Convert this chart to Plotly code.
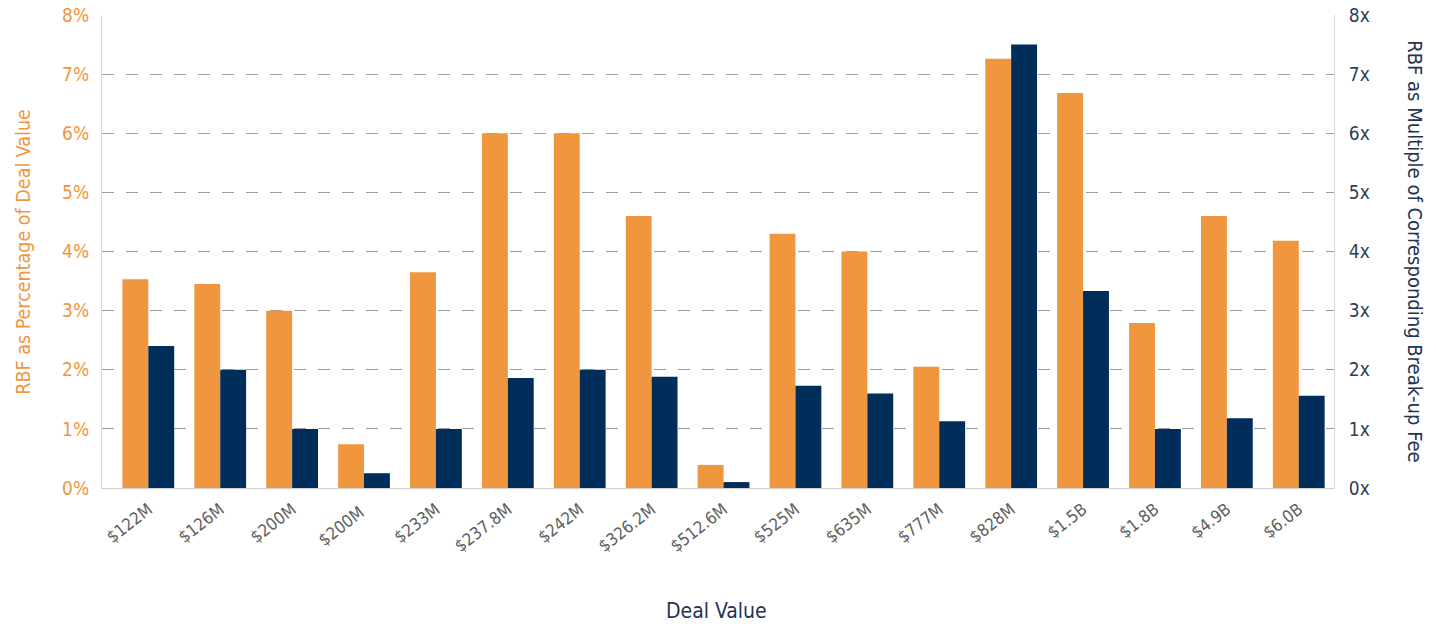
import plotly.graph_objects as go

# Deal values on the category axis (the repeated $200M carries a trailing space
# so both deals get their own slot)
deal_values = ["$122M", "$126M", "$200M", "$200M ", "$233M", "$237.8M", "$242M",
               "$326.2M", "$512.6M", "$525M", "$635M", "$777M", "$828M",
               "$1.5B", "$1.8B", "$4.9B", "$6.0B"]

# RBF as percentage of deal value (left axis, %)
rbf_pct = [3.53, 3.45, 3.0, 0.74, 3.65, 6.0, 6.0, 4.6, 0.39, 4.3, 4.0, 2.05,
           7.26, 6.68, 2.79, 4.6, 4.18]

# RBF as multiple of corresponding break-up fee (right axis, x)
rbf_multiple = [2.4, 2.0, 1.0, 0.25, 1.0, 1.86, 2.0, 1.88, 0.1, 1.73, 1.6, 1.13,
                7.5, 3.33, 1.0, 1.18, 1.56]

ORANGE = "#F0963F"
NAVY = "#002D5A"
TITLE_NAVY = "#1f3550"
FONT = "DejaVu Sans Condensed, Liberation Sans Narrow, Arial Narrow, sans-serif"

fig = go.Figure()
fig.add_trace(go.Bar(x=deal_values, y=rbf_pct, marker_color=ORANGE,
                     marker_line_width=0,
                     offsetgroup="pct", yaxis="y", name="RBF %"))
fig.add_trace(go.Bar(x=deal_values, y=rbf_multiple, marker_color=NAVY,
                     marker_line_width=0,
                     offsetgroup="mult", yaxis="y2", name="RBF multiple"))

fig.update_layout(
    width=1436, height=626,
    margin=dict(l=102, r=102, t=15, b=138),
    paper_bgcolor="white", plot_bgcolor="white",
    barmode="group", bargap=0.28, bargroupgap=0,
    showlegend=False,
    font=dict(family=FONT),
    xaxis=dict(
        range=[-0.644, 16.49], automargin=False,
        tickangle=-38, tickfont=dict(size=17, color="#5f5f5f"),
        showline=True, linecolor="#d0d0d0", linewidth=1,
        ticks="", showgrid=False, ticklabelstandoff=4,
    ),
    yaxis=dict(
        range=[0, 8], dtick=1, ticksuffix="%", automargin=False,
        tickfont=dict(size=19, color=ORANGE),
        showgrid=True, gridcolor="#a0a0a0", griddash="12px,12px", gridwidth=1,
        showline=True, linecolor="#d8d8d8", zeroline=False,
        ticks="", ticklabelstandoff=8,
    ),
    yaxis2=dict(
        range=[0, 8], dtick=1, ticksuffix="x", automargin=False,
        overlaying="y", side="right",
        tickfont=dict(size=19, color="#2e3f55"),
        showgrid=False, showline=True, linecolor="#d8d8d8", zeroline=False,
        ticks="", ticklabelstandoff=10,
    ),
    annotations=[
        dict(text="RBF as Percentage of Deal Value", textangle=-90,
             xref="paper", yref="paper", x=-0.064, y=0.5,
             xanchor="center", yanchor="middle", showarrow=False,
             font=dict(size=19.5, color=ORANGE, family=FONT)),
        dict(text="RBF as Multiple of Corresponding Break-up Fee", textangle=90,
             xref="paper", yref="paper", x=1.066, y=0.5,
             xanchor="center", yanchor="middle", showarrow=False,
             font=dict(size=20, color=TITLE_NAVY, family=FONT)),
        dict(text="Deal Value", xref="paper", yref="paper",
             x=0.499, y=-0.26, xanchor="center", yanchor="middle",
             showarrow=False, font=dict(size=21, color=TITLE_NAVY, family=FONT)),
    ],
)

fig.write_html("out.html")
